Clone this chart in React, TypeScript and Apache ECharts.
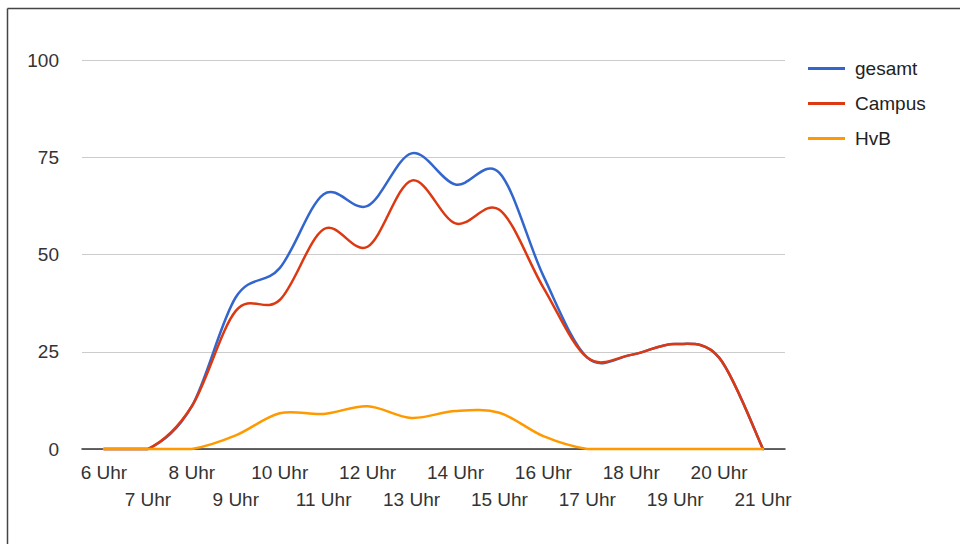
import React, { useEffect, useRef } from "react";
import * as echarts from "echarts";

const hours = ["6 Uhr", "7 Uhr", "8 Uhr", "9 Uhr", "10 Uhr", "11 Uhr", "12 Uhr", "13 Uhr", "14 Uhr", "15 Uhr", "16 Uhr", "17 Uhr", "18 Uhr", "19 Uhr", "20 Uhr", "21 Uhr"];
const gesamt = [0, 0, 11, 39, 46.5, 65.5, 62.5, 76, 68, 71, 44.5, 23.5, 24.2, 27, 23.5, 0];
const campus = [0, 0, 11, 35.5, 38.3, 56.5, 52, 69, 58, 61.5, 41.5, 23.5, 24.2, 27, 23.5, 0];
const hvb = [0, 0, 0, 3.5, 9.2, 9, 11, 8, 9.8, 9.3, 3.3, 0, 0, 0, 0, 0];
const yTicks = [0, 25, 50, 75, 100];

const FONT = "Arial, 'Liberation Sans', sans-serif";

function curveSeries(name: string, values: number[], color: string) {
  return {
    name,
    type: "custom",
    data: values.map((v, i) => [i, v]),
    encode: { x: 0, y: 1 },
    itemStyle: { color },
    renderItem: (params: any, api: any) => {
      if (params.dataIndex !== 0) return null;
      const pts = values.map((v, i) => api.coord([i, v]));
      const cs = params.coordSys;
      const bottom = cs.y + cs.height;
      const top = cs.y;
      const clampY = (y: number) => Math.min(bottom, Math.max(top, y));
      let d = `M${pts[0][0]},${pts[0][1]}`;
      const n = pts.length;
      for (let i = 0; i < n - 1; i++) {
        const p0 = pts[Math.max(0, i - 1)];
        const p1 = pts[i];
        const p2 = pts[i + 1];
        const p3 = pts[Math.min(n - 1, i + 2)];
        const c1x = p1[0] + (p2[0] - p0[0]) / 6;
        const c1y = clampY(p1[1] + (p2[1] - p0[1]) / 6);
        const c2x = p2[0] - (p3[0] - p1[0]) / 6;
        const c2y = clampY(p2[1] - (p3[1] - p1[1]) / 6);
        d += ` C${c1x},${c1y} ${c2x},${c2y} ${p2[0]},${p2[1]}`;
      }
      return {
        type: "path",
        shape: { pathData: d },
        style: { fill: "none", stroke: color, lineWidth: 2.5, lineJoin: "round", lineCap: "round" },
        silent: true,
      };
    },
  };
}

export default function App() {
  const ref = useRef<HTMLDivElement>(null);
  useEffect(() => {
    const chart = echarts.init(ref.current!, null, { renderer: "svg" });
    chart.setOption({
      animation: false,
      backgroundColor: "#ffffff",
      textStyle: { fontFamily: FONT },
      graphic: [
        { type: "line", shape: { x1: 7.5, y1: 8.5, x2: 960, y2: 8.5 }, style: { stroke: "#444", lineWidth: 1.5 } },
        { type: "line", shape: { x1: 7.5, y1: 8.5, x2: 7.5, y2: 544 }, style: { stroke: "#444", lineWidth: 1.5 } },
      ],
      legend: {
        orient: "vertical",
        left: 808,
        top: 59,
        padding: 0,
        itemWidth: 37,
        itemHeight: 3,
        itemGap: 16,
        icon: "rect",
        textStyle: { fontSize: 19, color: "#222", fontFamily: FONT, padding: [0, 0, 0, 5] },
        data: ["gesamt", "Campus", "HvB"],
      },
      grid: { left: 82, right: 175, top: 60, bottom: 95 },
      xAxis: {
        type: "category",
        data: hours,
        boundaryGap: true,
        axisLine: { lineStyle: { color: "#333", width: 1.5 } },
        axisTick: { show: false },
        axisLabel: {
          interval: 0,
          margin: 10,
          fontSize: 19,
          lineHeight: 27,
          color: "#333",
          fontFamily: FONT,
          formatter: (v: string, i: number) => (i % 2 === 1 ? "\n" + v : v),
        },
      },
      yAxis: {
        type: "value",
        min: yTicks[0],
        max: yTicks[yTicks.length - 1],
        interval: 25,
        axisLine: { show: false },
        axisTick: { show: false },
        splitLine: { lineStyle: { color: "#cccccc", width: 1 } },
        axisLabel: { fontSize: 19, color: "#333", margin: 23, fontFamily: FONT },
      },
      series: [
        curveSeries("gesamt", gesamt, "#3366cc"),
        curveSeries("Campus", campus, "#dc3912"),
        curveSeries("HvB", hvb, "#ff9900"),
      ],
    });
    return () => chart.dispose();
  }, []);
  return <div ref={ref} style={{ position: "fixed", left: 0, top: 0, width: 960, height: 544 }} />;
}
